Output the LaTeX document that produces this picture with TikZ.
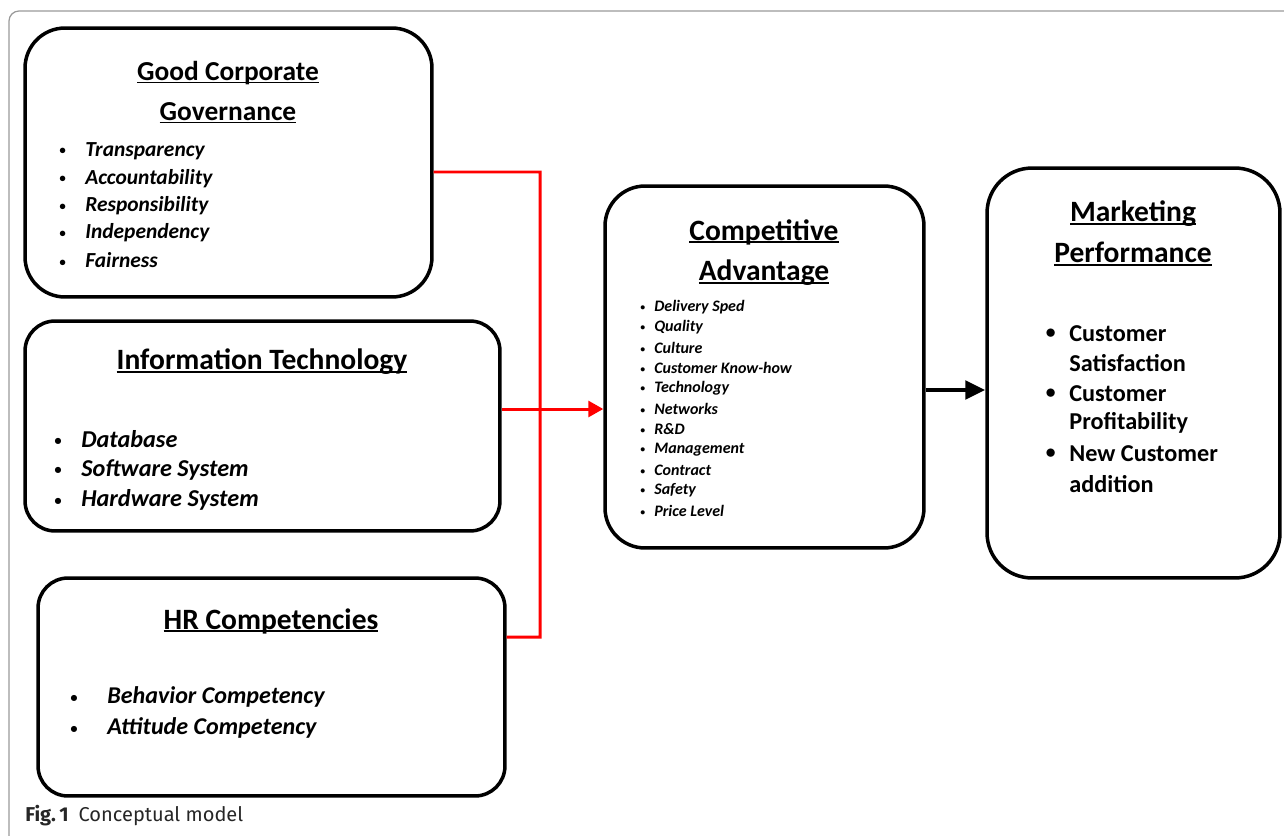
\documentclass[tikz,border=0pt]{standalone}
\usepackage{fontspec}
\setmainfont{Carlito}
\newfontfamily\capfont{Fira Sans}
\usetikzlibrary{arrows.meta}
\newcommand{\bul}[2]{\makebox[#1][l]{\raisebox{0.06em}{\scalebox{0.6}{\textbullet}}}#2}
\newcommand{\ulin}[1]{\setbox0\hbox{#1}\rlap{\rule[-0.1em]{\wd0}{0.06em}}\box0}
\tikzset{
  boxnode/.style  = {draw,line width=2pt,rounded corners=0.8cm,inner sep=0pt},
  headtxt/.style  = {inner sep=0pt,font=\fontsize{16.8}{19}\selectfont\bfseries},
  itemtxt/.style  = {anchor=west,inner sep=0pt},
  redline/.style  = {red,line width=1.7pt},
  redarr/.style   = {redline,-{Triangle[length=3mm,width=3.2mm]}},
  blackarr/.style = {line width=2.8pt,-{Triangle[length=4mm,width=3.6mm]}},
  framelin/.style = {gray!80,line width=0.7pt}
}

\begin{document}
\begin{tikzpicture}[x=0.02cm,y=-0.02cm]
  \useasboundingbox (0,0) rectangle (1284,835);
  \draw[framelin,rounded corners=0.2cm] (9,840) -- (9,11) -- (1290,11);

  % boxes
  \node[boxnode,minimum width=8.14cm,minimum height=5.38cm] (gcg) at (228.5,162.5) {};
  \node[boxnode,rounded corners=0.6cm,minimum width=9.5cm,minimum height=4.2cm] (it) at (262.5,426) {};
  \node[boxnode,rounded corners=0.6cm,minimum width=9.34cm,minimum height=4.36cm] (hr) at (271.5,687) {};
  \node[boxnode,minimum width=6.38cm,minimum height=7.24cm] (ca) at (764.5,367) {};
  \node[boxnode,rounded corners=0.9cm,minimum width=5.86cm,minimum height=8.2cm] (mp) at (1133.5,373) {};

  % headings
  \node[headtxt,font=\fontsize{15.6}{19}\selectfont\bfseries] (gcg-h1) at (228,73) {\ulin{Good Corporate}};
  \node[headtxt,font=\fontsize{15.6}{19}\selectfont\bfseries] (gcg-h2) at (228,113) {\ulin{Governance}};
  \node[headtxt] (it-h) at (262,362) {\ulin{Information Technology}};
  \node[headtxt] (hr-h) at (271,621) {\ulin{HR Competencies}};
  \node[headtxt] (ca-h1) at (764,232) {\ulin{Competitive}};
  \node[headtxt] (ca-h2) at (764,273) {\ulin{Advantage}};
  \node[headtxt] (mp-h1) at (1133,214) {\ulin{Marketing}};
  \node[headtxt] (mp-h2) at (1133,254) {\ulin{Performance}};

  % item lists
  \foreach \t [count=\i] in {Transparency,Accountability,Responsibility,Independency,Fairness}
    \node[itemtxt,font=\fontsize{12.2}{14}\selectfont\bfseries\itshape] (gcg-\i) at (59,151+27.25*\i-27.25) {\bul{0.52cm}{\t}};
  \foreach \t [count=\i] in {Database,Software System,Hardware System}
    \node[itemtxt,font=\fontsize{13.8}{16}\selectfont\bfseries\itshape] (it-\i) at (54,439+30.5*\i-30.5) {\bul{0.54cm}{\t}};
  \foreach \t [count=\i] in {Behavior Competency,Attitude Competency}
    \node[itemtxt,font=\fontsize{13.7}{16}\selectfont\bfseries\itshape] (hr-\i) at (70,697+31*\i-31) {\bul{0.74cm}{\t}};
  \foreach \t [count=\i] in {Delivery Sped,Quality,Culture,Customer Know-how,Technology,Networks,R\&D,Management,Contract,Safety,Price Level}
    \node[itemtxt,font=\fontsize{9.1}{11}\selectfont\bfseries\itshape] (ca-\i) at (640,307+20.4*\i-20.4) {\bul{0.28cm}{\t}};
  \foreach \y/\t [count=\i] in {334/Customer,363/Satisfaction,394/Customer,423/Profitability,454/New Customer,484/addition}
    \node[itemtxt,font=\fontsize{13.8}{16}\selectfont\bfseries] (mp-\i) at (1069,\y) {\t};
  \foreach \y [count=\i] in {334,394,454}
    \node[itemtxt,font=\fontsize{13.8}{16}\selectfont\bfseries] (mp-b\i) at (1045,\y) {\scalebox{0.85}{$\bullet$}};

  % connectors
  \coordinate (bustop) at (540,172);
  \coordinate (busbot) at (540,637);
  \draw[redline] ([yshift=-0.19cm]gcg.east) -- (bustop) -- (busbot) -- ([yshift=1cm]hr.east);
  \draw[redarr] ([yshift=0.34cm]it.east) -- ([yshift=0.34cm]it.east -| ca.west);
  \draw[blackarr] ([yshift=-0.46cm]ca.east) -- ([yshift=-0.46cm]ca.east -| mp.west);

  % caption
  \node[anchor=west,inner sep=0pt,font=\capfont\fontsize{11.4}{13}\selectfont,text=black!85] (cap) at (25,816) {\textbf{Fig.\,1}\enspace Conceptual model};
\end{tikzpicture}
\end{document}
